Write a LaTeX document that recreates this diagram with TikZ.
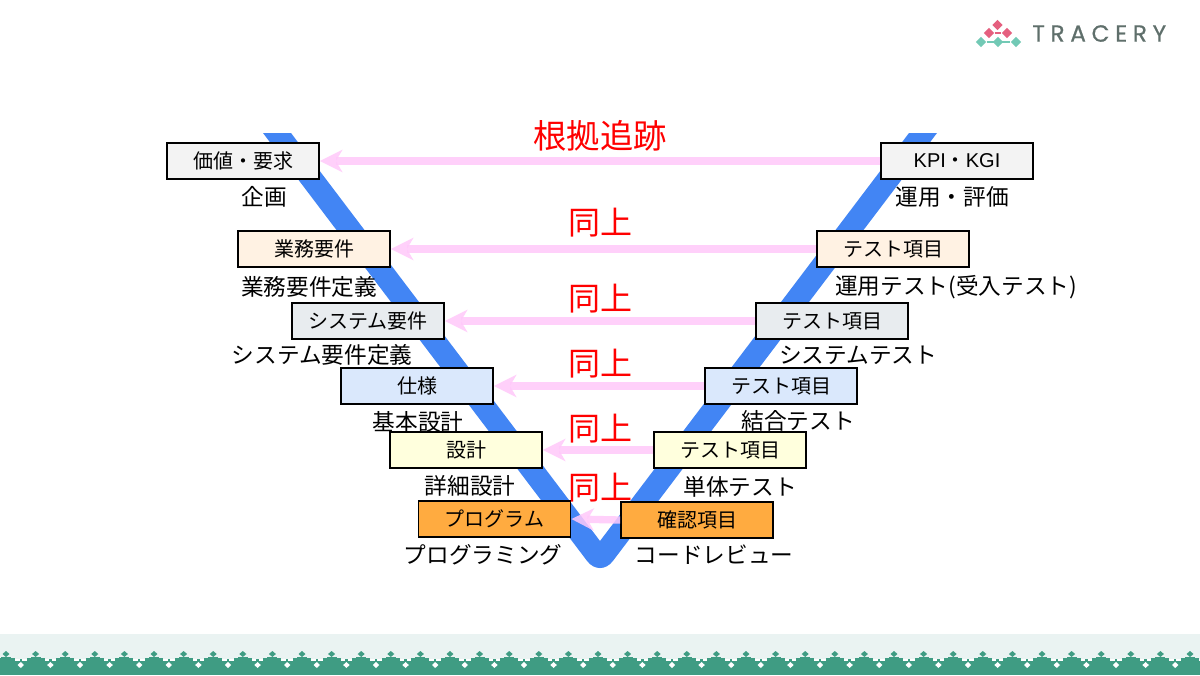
\documentclass[tikz,border=0pt]{standalone}
\usepackage{fontspec}
\setmainfont{Noto Sans CJK JP}
\newfontfamily\logofont[LetterSpace=24,FakeBold=0.6]{Poppins}
\newfontfamily\arialfont{Liberation Sans}
\usepackage{tikz}
\usetikzlibrary{positioning, arrows.meta, shapes.geometric}
\definecolor{vblue}{HTML}{4285F4}
\definecolor{tracepink}{HTML}{FFC8FA}
\definecolor{bxgray}{HTML}{F3F3F3}
\definecolor{bxpeach}{HTML}{FFF2E3}
\definecolor{bxslate}{HTML}{E8ECEF}
\definecolor{bxblue}{HTML}{DAE8FC}
\definecolor{bxyellow}{HTML}{FFFFDD}
\definecolor{bxorange}{HTML}{FFAB40}
\definecolor{logopink}{HTML}{E5607F}
\definecolor{logoteal}{HTML}{72C9B5}
\definecolor{logotext}{HTML}{5F6F6B}
\definecolor{footpale}{HTML}{EAF3F2}
\definecolor{footgreen}{HTML}{3F9C83}

\begin{document}
\begin{tikzpicture}[x=0.75pt, y=-0.75pt, >=Stealth,
          workbox/.style={draw=black, line width=1.4pt, minimum width=114pt, minimum height=27pt, inner sep=0pt, font=\fontsize{15}{17}\selectfont},
          phase/.style={font=\fontsize{17}{19}\selectfont, inner sep=0pt},
          same/.style={text=red, font=\fontsize{24}{26}\selectfont, inner sep=0pt},
          trace/.style={-{Stealth[length=17pt,width=17pt,inset=5pt,line width=0pt]}, line width=5.5pt, tracepink, opacity=0.85},
          logodot/.style={diamond, minimum size=8pt, inner sep=0pt}
        ]
        \useasboundingbox (0,0) rectangle (1200,675);
        \fill[white] (0,0) rectangle (1200,675);

        % V
        \fill[vblue] (263,133) [rounded corners=16pt] -- (600,578) [sharp corners] -- (937,133) -- (909,133) -- (600,541) -- (291,133) -- cycle;

        % left column
        \node[workbox, fill=bxgray]   (value) at (243,161) {価値・要求};
        \node[workbox, fill=bxpeach]  (biz)   at (314,249) {業務要件};
        \node[workbox, fill=bxslate]  (sysr)  at (368,321) {システム要件};
        \node[workbox, fill=bxblue]   (spec)  at (417,386) {仕様};
        \node[workbox, fill=bxyellow] (dsgn)  at (466,450) {設計};
        \node[workbox, fill=bxorange] (prog)  at (494.5,519) {プログラム};

        % right column
        \node[workbox, fill=bxgray]   (kpi)   at (957,161) {{\arialfont KPI}・{\arialfont KGI}};
        \node[workbox, fill=bxpeach]  (test1) at (893,249) {テスト項目};
        \node[workbox, fill=bxslate]  (test2) at (832,321) {テスト項目};
        \node[workbox, fill=bxblue]   (test3) at (781,386) {テスト項目};
        \node[workbox, fill=bxyellow] (test4) at (730,450) {テスト項目};
        \node[workbox, fill=bxorange] (check) at (697,520) {確認項目};

        % phase names
        \node[phase] (plan)  at (264,197) {企画};
        \node[phase] (pbiz)  at (309,287) {業務要件定義};
        \node[phase] (psys)  at (322,355) {システム要件定義};
        \node[phase] (pbase) at (418,422) {基本設計};
        \node[phase] (pdet)  at (470,486) {詳細設計};
        \node[phase] (pprog) at (483,555) {プログラミング};
        \node[phase] (pops)  at (952,197) {運用・評価};
        \node[phase] (pacc)  at (956,287) {運用テスト(受入テスト)};
        \node[phase] (pst)   at (858,355) {システムテスト};
        \node[phase] (pit)   at (798,421) {結合テスト};
        \node[phase] (put)   at (740,487) {単体テスト};
        \node[phase] (prev)  at (714,555) {コードレビュー};

        % trace arrows
        \draw[trace] (kpi.west) -- (value.east);
        \draw[trace] (test1.west) -- (biz.east);
        \draw[trace] (test2.west) -- (sysr.east);
        \draw[trace] (test3.west) -- (spec.east);
        \draw[trace] (test4.west) -- (dsgn.east);
        \draw[trace] (check.west) -- (prog.east);

        \node[same, font=\fontsize{25}{27}\selectfont] (root) at (600,136) {根拠追跡};
        \node[same] (same1) at (600,223) {同上};
        \node[same] (same2) at (600,299) {同上};
        \node[same] (same3) at (600,364) {同上};
        \node[same] (same4) at (600,429) {同上};
        \node[same] (same5) at (600,488) {同上};

        % logo
        \node[logodot, fill=logopink] (lp1) at (997.5,25) {};
        \node[logodot, fill=logopink] (lp2) at (989,33) {};
        \node[logodot, fill=logopink] (lp3) at (1007,33) {};
        \node[logodot, fill=logoteal] (lt1) at (981,42) {};
        \node[logodot, fill=logoteal] (lt2) at (998,42) {};
        \node[logodot, fill=logoteal] (lt3) at (1016,42) {};
        \draw[logopink, line width=1.2pt] (lp2) -- (lp3);
        \draw[logoteal, line width=1.2pt] (lt1) -- (lt3);
        \node[anchor=west, inner sep=0pt, text=logotext, font=\logofont\fontsize{17.5}{19}\selectfont] (brand) at (1032,33.5) {TRACERY};

        % footer
        \fill[footpale] (0,634) rectangle (1200,675);
        \fill[footgreen] (0,661) rectangle (1200,675);
        \foreach \k in {0,...,41}{
          \begin{scope}[shift={(\k*29.6+6,0)}]
            \fill[footgreen] (0,651) -- (3.5,654) -- (0,657) -- (-3.5,654) -- cycle;
            \fill[footgreen] (-5,656.5) rectangle (5,658);
            \fill[footgreen] (-9,658) rectangle (9,661);
            \fill[white] (9,658.5) rectangle (20.6,660.5);
            \fill[footgreen] (13.5,658.5) rectangle (16,660.5);
            \fill[white] (14.8,662) -- (18,665) -- (14.8,668) -- (11.6,665) -- cycle;
          \end{scope}
        }
      \end{tikzpicture}
\end{document}
